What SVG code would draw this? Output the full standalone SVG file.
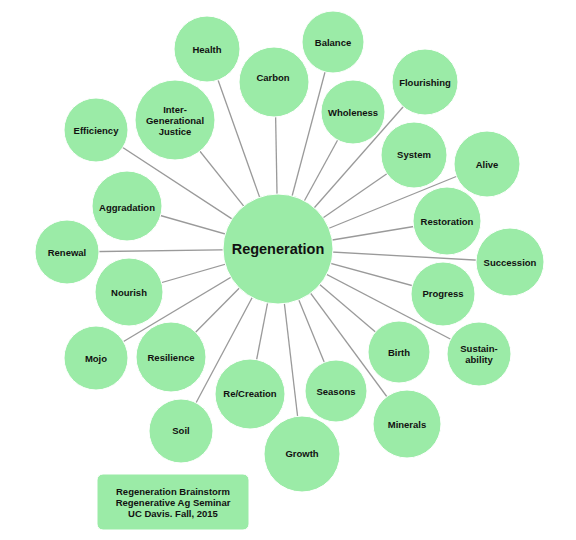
<svg xmlns="http://www.w3.org/2000/svg" width="576" height="540" viewBox="0 0 576 540">
<style>
.n{fill:#9beba7;stroke:#ffffff;stroke-width:1}
.t{font-family:"Liberation Sans",Arial,sans-serif;font-weight:bold;font-size:9.5px;fill:#111;text-anchor:middle;dominant-baseline:central}
.big{font-size:14.5px}
.e line{stroke:#9a9a9a;stroke-width:1.3}
</style>
<rect width="576" height="540" fill="#ffffff"/>
<g id="connectors" class="e">
<line x1="278" y1="249" x2="207" y2="49"/>
<line x1="278" y1="249" x2="275" y2="82"/>
<line x1="278" y1="249" x2="333" y2="42"/>
<line x1="278" y1="249" x2="353" y2="112"/>
<line x1="278" y1="249" x2="425" y2="82"/>
<line x1="278" y1="249" x2="414" y2="155"/>
<line x1="278" y1="249" x2="487" y2="164"/>
<line x1="278" y1="249" x2="96" y2="130"/>
<line x1="278" y1="249" x2="175" y2="120"/>
<line x1="278" y1="249" x2="127" y2="206"/>
<line x1="278" y1="249" x2="67" y2="252"/>
<line x1="278" y1="249" x2="129" y2="292"/>
<line x1="278" y1="249" x2="96" y2="358"/>
<line x1="278" y1="249" x2="171" y2="357"/>
<line x1="278" y1="249" x2="447" y2="221"/>
<line x1="278" y1="249" x2="510" y2="262"/>
<line x1="278" y1="249" x2="443" y2="294"/>
<line x1="278" y1="249" x2="399" y2="352"/>
<line x1="278" y1="249" x2="479" y2="354"/>
<line x1="278" y1="249" x2="250" y2="394"/>
<line x1="278" y1="249" x2="181" y2="431"/>
<line x1="278" y1="249" x2="336" y2="391"/>
<line x1="278" y1="249" x2="407" y2="424"/>
<line x1="278" y1="249" x2="302" y2="454"/>
</g>
<g id="regeneration"><circle class="n" cx="278" cy="249" r="55"/><text class="t big" x="278" y="249">Regeneration</text></g>
<g id="health"><circle class="n" cx="207" cy="49" r="33"/><text class="t" x="207" y="49">Health</text></g>
<g id="carbon"><circle class="n" cx="274" cy="82" r="35"/><text class="t" x="273" y="77">Carbon</text></g>
<g id="balance"><circle class="n" cx="333" cy="42" r="31"/><text class="t" x="333" y="42">Balance</text></g>
<g id="wholeness"><circle class="n" cx="353" cy="112" r="32"/><text class="t" x="353" y="112">Wholeness</text></g>
<g id="flourishing"><circle class="n" cx="425" cy="82" r="33"/><text class="t" x="425" y="82">Flourishing</text></g>
<g id="system"><circle class="n" cx="414" cy="155" r="33"/><text class="t" x="414" y="154">System</text></g>
<g id="alive"><circle class="n" cx="487" cy="164" r="33"/><text class="t" x="487" y="164">Alive</text></g>
<g id="efficiency"><circle class="n" cx="96" cy="130" r="32"/><text class="t" x="96" y="130">Efficiency</text></g>
<g id="intergenerational"><circle class="n" cx="175" cy="120" r="40"/><text class="t" x="175" y="109">Inter-</text><text class="t" x="175" y="120">Generational</text><text class="t" x="175" y="131">Justice</text></g>
<g id="aggradation"><circle class="n" cx="127" cy="206" r="35"/><text class="t" x="127" y="207">Aggradation</text></g>
<g id="renewal"><circle class="n" cx="67" cy="252" r="32"/><text class="t" x="67" y="252">Renewal</text></g>
<g id="nourish"><circle class="n" cx="129" cy="292" r="34"/><text class="t" x="129" y="292">Nourish</text></g>
<g id="mojo"><circle class="n" cx="96" cy="358" r="32"/><text class="t" x="96" y="358">Mojo</text></g>
<g id="resilience"><circle class="n" cx="171" cy="357" r="35"/><text class="t" x="171" y="357">Resilience</text></g>
<g id="restoration"><circle class="n" cx="447" cy="221" r="34"/><text class="t" x="447" y="221">Restoration</text></g>
<g id="succession"><circle class="n" cx="510" cy="262" r="34"/><text class="t" x="510" y="262">Succession</text></g>
<g id="progress"><circle class="n" cx="443" cy="294" r="32"/><text class="t" x="443" y="293">Progress</text></g>
<g id="birth"><circle class="n" cx="399" cy="352" r="31"/><text class="t" x="399" y="352">Birth</text></g>
<g id="sustainability"><circle class="n" cx="479" cy="354" r="32"/><text class="t" x="479" y="348">Sustain-</text><text class="t" x="479" y="359">ability</text></g>
<g id="recreation"><circle class="n" cx="250" cy="394" r="35"/><text class="t" x="250" y="393">Re/Creation</text></g>
<g id="soil"><circle class="n" cx="181" cy="431" r="32"/><text class="t" x="181" y="430">Soil</text></g>
<g id="seasons"><circle class="n" cx="336" cy="391" r="31"/><text class="t" x="336" y="391">Seasons</text></g>
<g id="minerals"><circle class="n" cx="407" cy="424" r="34"/><text class="t" x="407" y="424">Minerals</text></g>
<g id="growth"><circle class="n" cx="302" cy="454" r="38"/><text class="t" x="302" y="453">Growth</text></g>
<g id="caption"><rect class="n" x="97" y="474" width="152" height="56" rx="6"/><text class="t" x="173" y="491">Regeneration Brainstorm</text><text class="t" x="173" y="502">Regenerative Ag Seminar</text><text class="t" x="173" y="513">UC Davis. Fall, 2015</text></g>
</svg>
